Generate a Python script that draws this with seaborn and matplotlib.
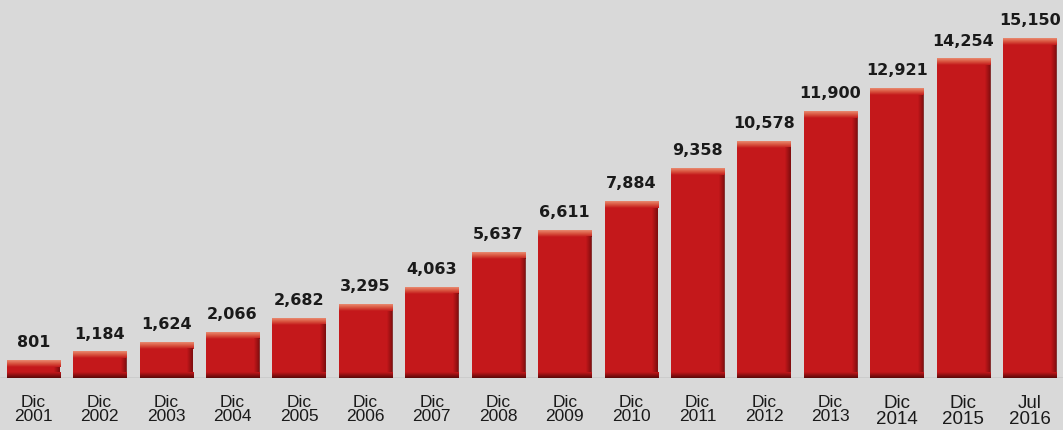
import matplotlib
matplotlib.use("Agg")
import matplotlib.pyplot as plt
import seaborn as sns
import numpy as np
import pandas as pd

periods = ["Dic\n2001", "Dic\n2002", "Dic\n2003", "Dic\n2004", "Dic\n2005", "Dic\n2006",
           "Dic\n2007", "Dic\n2008", "Dic\n2009", "Dic\n2010", "Dic\n2011", "Dic\n2012",
           "Dic\n2013", "Dic\n2014", "Dic\n2015", "Jul\n2016"]
values = [801, 1184, 1624, 2066, 2682, 3295, 4063, 5637, 6611, 7884, 9358, 10578,
          11900, 12921, 14254, 15150]

df = pd.DataFrame({"period": periods, "value": values})

sns.set_theme(style="white")
bg = "#d9d9d9"
fig = plt.figure(figsize=(10.63, 4.30), dpi=100, facecolor=bg)
ax = fig.add_axes([0.0, 0.121, 1.0, 0.879])
ax.set_facecolor(bg)

YMAX = 16850
sns.barplot(data=df, x="period", y="value", color="#c4181b", width=0.8,
            saturation=1, ax=ax, edgecolor="none")
ax.set_xlim(-0.5, len(values) - 0.5)
ax.set_ylim(0, YMAX)

# bevel shading: fixed-pixel strips converted to data units
px = YMAX / (fig.get_figheight() * fig.dpi * 0.879)
top_cmap = matplotlib.colors.LinearSegmentedColormap.from_list(
    "top", ["#c4181b", "#d9543f", "#e98a70"])
bot_cmap = matplotlib.colors.LinearSegmentedColormap.from_list(
    "bot", ["#5a0808", "#8e1012", "#c4181b"])
grad = np.linspace(0, 1, 64).reshape(-1, 1)
hgrad = np.linspace(0, 1, 64).reshape(1, -1)
side_cmap = matplotlib.colors.LinearSegmentedColormap.from_list(
    "side", ["#c4181b", "#6a0a0a"])
for p in list(ax.patches):
    x0, y0 = p.get_x(), p.get_y()
    w, h = p.get_width(), p.get_height()
    z = p.get_zorder() + 0.1
    ax.imshow(grad, extent=[x0, x0 + w, y0 + h - 7 * px, y0 + h], origin="lower",
              cmap=top_cmap, aspect="auto", zorder=z)
    ax.imshow(grad, extent=[x0, x0 + w, y0, y0 + 6 * px], origin="lower",
              cmap=bot_cmap, aspect="auto", zorder=z)
    ax.imshow(hgrad, extent=[x0 + w * 0.9, x0 + w, y0 + 6 * px, y0 + h - 7 * px],
              origin="lower", cmap=side_cmap, aspect="auto", zorder=z, alpha=0.8)
ax.set_xlim(-0.5, len(values) - 0.5)
ax.set_ylim(0, YMAX)

for p, v in zip(ax.patches, values):
    ax.annotate(f"{v:,}", (p.get_x() + p.get_width() / 2, p.get_height()),
                xytext=(0, 7), textcoords="offset points", ha="center", va="bottom",
                fontsize=11.5, fontweight="bold", color="#1a1a1a", family="DejaVu Sans")

ax.set_xlabel("")
ax.set_ylabel("")
ax.set_yticks([])
ax.axhline(0, color="#9a9a9a", lw=1, zorder=0)
for s in ax.spines.values():
    s.set_visible(False)
ax.tick_params(axis="x", length=0, pad=12)
labels = ax.get_xticklabels()
for i, t in enumerate(labels):
    t.set_family("Liberation Sans")
    t.set_color("#1a1a1a")
    t.set_linespacing(0.95)
    t.set_fontsize(13.5 if i >= 13 else 12.5)

fig.savefig("out.png", dpi=100, facecolor=bg)
